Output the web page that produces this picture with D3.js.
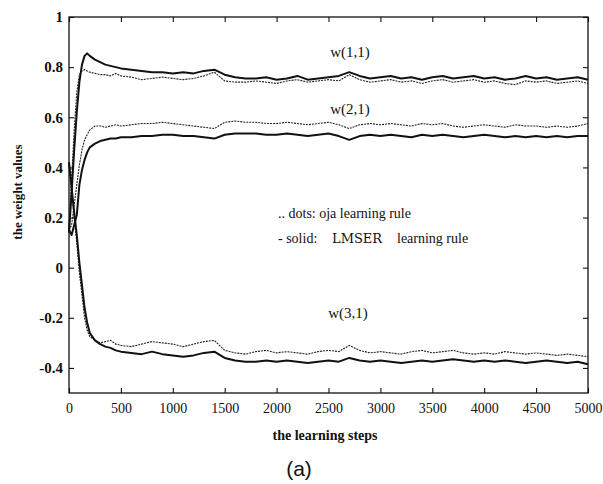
<!DOCTYPE html>
<html><head><meta charset="utf-8">
<script src="https://d3js.org/d3.v7.min.js"></script>
<style>
body{margin:0;background:#fff;}
svg text{font-family:"Liberation Serif","Times New Roman",serif;fill:#111;}
</style></head>
<body><svg id="c" width="603" height="484"></svg>
<script>
const steps = [0,25,50,75,100,125,150,175,200,250,300,350,400,450,500,
600,700,800,900,1000,1100,1200,1300,1400,1500,1600,1700,1800,1900,2000,
2100,2200,2300,2400,2500,2600,2700,2800,2900,3000,3100,3200,3300,3400,3500,
3600,3700,3800,3900,4000,4100,4200,4300,4400,4500,4600,4700,4800,4900,5000];

const w11_lmser = [0.14,0.30,0.47,0.62,0.74,0.81,0.845,0.855,0.845,0.83,0.82,0.81,0.805,0.80,0.795,
0.79,0.785,0.78,0.78,0.775,0.78,0.775,0.785,0.79,0.77,0.76,0.755,0.755,0.76,0.75,
0.755,0.765,0.75,0.755,0.76,0.765,0.78,0.765,0.755,0.76,0.765,0.755,0.76,0.75,0.76,
0.765,0.755,0.76,0.765,0.755,0.76,0.75,0.755,0.765,0.755,0.76,0.75,0.755,0.76,0.75];

const w11_oja = [0.15,0.35,0.55,0.70,0.77,0.785,0.79,0.785,0.78,0.775,0.77,0.77,0.765,0.775,0.765,
0.76,0.75,0.755,0.76,0.755,0.75,0.755,0.765,0.78,0.745,0.74,0.74,0.745,0.74,0.735,
0.745,0.75,0.74,0.745,0.75,0.745,0.77,0.75,0.74,0.745,0.75,0.74,0.745,0.735,0.745,
0.75,0.74,0.745,0.75,0.74,0.745,0.735,0.73,0.745,0.74,0.745,0.735,0.74,0.745,0.735];

const w21_lmser = [0.15,0.13,0.17,0.21,0.33,0.39,0.43,0.46,0.48,0.495,0.505,0.51,0.515,0.515,0.52,
0.52,0.525,0.525,0.53,0.53,0.525,0.525,0.52,0.515,0.53,0.535,0.535,0.535,0.53,0.53,
0.535,0.53,0.525,0.53,0.535,0.525,0.51,0.525,0.53,0.525,0.53,0.525,0.52,0.53,0.525,
0.53,0.525,0.52,0.525,0.53,0.525,0.52,0.525,0.52,0.525,0.52,0.525,0.52,0.525,0.525];

const w21_oja = [0.15,0.17,0.25,0.33,0.41,0.47,0.51,0.53,0.55,0.565,0.565,0.56,0.565,0.57,0.565,
0.57,0.575,0.575,0.58,0.575,0.57,0.565,0.56,0.555,0.58,0.585,0.58,0.58,0.575,0.575,
0.58,0.575,0.57,0.575,0.58,0.57,0.555,0.57,0.575,0.57,0.575,0.57,0.565,0.575,0.57,
0.575,0.565,0.56,0.565,0.57,0.565,0.56,0.57,0.565,0.565,0.56,0.565,0.56,0.565,0.575];

const w31_lmser = [0.42,0.32,0.22,0.13,0.02,-0.07,-0.16,-0.22,-0.26,-0.29,-0.305,-0.315,-0.32,-0.33,-0.335,
-0.34,-0.345,-0.335,-0.345,-0.35,-0.355,-0.35,-0.34,-0.335,-0.36,-0.37,-0.375,-0.375,-0.37,-0.375,
-0.37,-0.375,-0.38,-0.375,-0.37,-0.375,-0.36,-0.37,-0.375,-0.37,-0.375,-0.38,-0.375,-0.37,-0.375,
-0.37,-0.365,-0.37,-0.375,-0.37,-0.375,-0.37,-0.375,-0.38,-0.375,-0.37,-0.375,-0.38,-0.375,-0.385];

const w31_oja = [0.42,0.31,0.20,0.10,-0.02,-0.11,-0.20,-0.25,-0.275,-0.29,-0.30,-0.295,-0.29,-0.305,-0.31,
-0.315,-0.305,-0.295,-0.30,-0.305,-0.315,-0.305,-0.295,-0.29,-0.33,-0.34,-0.345,-0.335,-0.33,-0.34,
-0.335,-0.34,-0.345,-0.335,-0.33,-0.335,-0.31,-0.33,-0.34,-0.335,-0.34,-0.345,-0.335,-0.33,-0.34,
-0.335,-0.33,-0.34,-0.345,-0.34,-0.345,-0.335,-0.34,-0.345,-0.34,-0.345,-0.35,-0.345,-0.35,-0.355];

const xTicks = [0,500,1000,1500,2000,2500,3000,3500,4000,4500,5000];
const yTicks = [-0.4,-0.2,0,0.2,0.4,0.6,0.8,1];
const yTickLabels = ["-0.4","-0.2","0","0.2","0.4","0.6","0.8","1"];
const curveLabels = ["w(1,1)","w(2,1)","w(3,1)"];
const curveLabelPos = [[350,0.84],[350,0.612],[348,-0.2]];

const svg = d3.select("#c");
const m = {l:69, r:15, t:17, b:91};
const W = 603 - m.l - m.r, H = 484 - m.t - m.b;
const g = svg.append("g").attr("transform",`translate(${m.l},${m.t})`);
const x = d3.scaleLinear().domain([0,5000]).range([0,W]);
const y = d3.scaleLinear().domain([-0.5,1]).range([H,0]);

g.append("rect").attr("width",W).attr("height",H).attr("fill","none").attr("stroke","#111").attr("stroke-width",1.3);

const fmtY = d => yTickLabels[yTicks.indexOf(d)];
const ax = (sel)=>{sel.select(".domain").remove(); sel.selectAll("line").attr("stroke","#111").attr("stroke-width",1.1);};
g.append("g").call(d3.axisLeft(y).tickValues(yTicks).tickSize(-5).tickPadding(6).tickFormat(fmtY)).call(ax)
  .selectAll("text").attr("font-size",15).attr("font-weight","bold").attr("font-family","Liberation Serif");
g.append("g").attr("transform",`translate(${W},0)`).call(d3.axisRight(y).tickValues(yTicks).tickSize(-5).tickFormat("")).call(ax);
g.append("g").attr("transform",`translate(0,${H})`).call(d3.axisBottom(x).tickValues(xTicks).tickSize(-5).tickPadding(10).tickFormat(d3.format("d"))).call(ax)
  .selectAll("text").attr("font-size",14).attr("font-family","Liberation Serif");
g.append("g").call(d3.axisTop(x).tickValues(xTicks).tickSize(-5).tickFormat("")).call(ax);

const line = d3.line().x((d,i)=>x(steps[i])).y(d=>y(d));
const solids = [w11_lmser,w21_lmser,w31_lmser];
const dots = [w11_oja,w21_oja,w31_oja];
dots.forEach(s=>g.append("path").attr("d",line(s)).attr("fill","none").attr("stroke","#222").attr("stroke-width",1.1).attr("stroke-dasharray","2,1"));
solids.forEach(s=>g.append("path").attr("d",line(s)).attr("fill","none").attr("stroke","#111").attr("stroke-width",2).attr("stroke-linejoin","round"));

curveLabels.forEach((t,i)=>g.append("text").attr("x",curveLabelPos[i][0]-m.l).attr("y",y(curveLabelPos[i][1])).attr("text-anchor","middle").attr("font-size",15).text(t));

g.append("text").attr("x",278-m.l).attr("y",218-m.t).attr("font-size",14).text(".. dots: oja learning rule");
const l2 = g.append("text").attr("y",243-m.t).attr("font-size",14);
l2.append("tspan").attr("x",278-m.l).text("- solid:");
l2.append("tspan").attr("x",332-m.l).attr("font-family","DejaVu Serif").attr("font-size",13).text("LMSER");
l2.append("tspan").attr("x",397-m.l).text("learning rule");

svg.append("text").attr("x",325).attr("y",440).attr("text-anchor","middle").attr("font-size",14).attr("font-weight","bold").text("the learning steps");
svg.append("text").attr("transform","translate(22,192) rotate(-90)").attr("text-anchor","middle").attr("font-size",13).attr("font-weight","bold").text("the weight values");
svg.append("text").attr("x",299).attr("y",476).attr("text-anchor","middle").attr("font-size",21).style("font-family","Liberation Sans, Arial, sans-serif").text("(a)");
</script></body></html>
